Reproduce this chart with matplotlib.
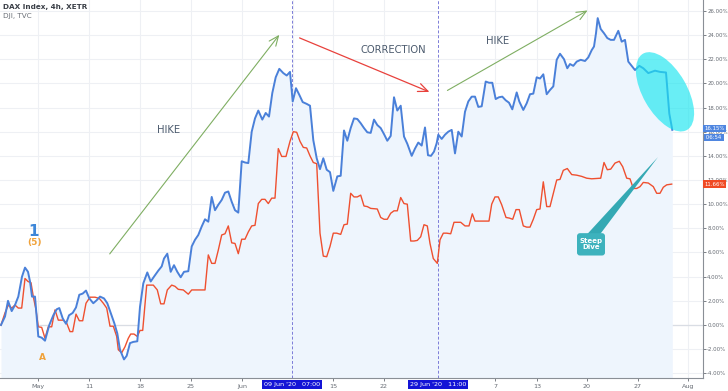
import matplotlib
matplotlib.use("Agg")
import matplotlib.pyplot as plt
import matplotlib.transforms as mtrans
from matplotlib.patches import Ellipse, FancyBboxPatch, Polygon
import numpy as np

# ---------------- data ----------------
# time axis: chart time units (≈0.1 trading session each) from the first bar
dax_t = [1, 5, 8, 11.7, 15, 18.3, 22, 25, 28, 30, 32, 35, 38.3, 41.7, 45, 49.3, 53.3, 56.7, 59.3, 62.7,
         66, 69, 72.7, 76, 79.3, 82.7, 86, 89.3, 93.3, 96.7, 100, 104, 107.3, 110.7, 114.3, 117.3, 120, 124,
         126.7, 130, 133.3, 137.3, 140, 143.3, 147.3, 150.7, 154, 158.3, 161.7, 164, 167.3, 170.7, 174,
         177.3, 180.7, 184, 188.3, 191.7, 195, 198.3, 201.7, 205, 208.3, 211.7, 215, 218.3, 221.7, 225,
         228.3, 231.7, 235, 238.3, 241.7, 245, 248.3, 251.7, 255, 258.3, 262.3, 265.7, 269, 272.3, 275.7,
         279.3, 283.3, 286.7, 290, 292.7, 296, 299.3, 302.7, 306.7, 310, 313.3, 316.7, 320, 323.3, 326.7,
         330, 333.3, 337.3, 340.7, 344, 347.3, 350.7, 354, 357.3, 360.7, 364, 367.3, 370.7, 374, 377.3,
         380.7, 384, 387.3, 390.7, 394, 397.3, 400.7, 404, 407.3, 411.7, 415, 418.3, 421.7, 425, 428, 431,
         434, 436.7, 438.3, 441.7, 445, 448.3, 451.7, 455, 458.3, 461.7, 465, 468.3, 471.7, 475, 478.3,
         481.7, 485.7, 489, 492.3, 495.7, 499, 502.3, 505.7, 509, 512.3, 516.7, 519.3, 523.3, 526.7, 530,
         533.3, 536.7, 540, 543.3, 546.7, 550, 553.3, 556.7, 560, 564, 567.3, 570, 573.3, 576.7, 580.7,
         585, 588.3, 591.7, 594, 596, 597.7, 600.7, 604, 607.3, 610.7, 614, 618.3, 621.7, 625, 628.3,
         631.7, 635, 639.3, 643.3, 648.3, 651.7, 655, 660, 666, 669.3, 672.3]
dax_pct = [0.0, 0.7, 2.0, 1.15, 1.65, 2.35, 4.0, 4.75, 4.4, 3.6, 2.35, 2.35, -0.95, -1.05, -1.3, 0.0, 0.8,
           1.3, 1.4, 0.55, 0.1, 0.8, 1.0, 1.45, 2.5, 2.6, 2.85, 2.2, 1.8, 2.05, 2.35, 2.2, 1.8, 1.0, 0.15,
           -0.7, -2.05, -2.85, -2.55, -1.5, -1.4, -1.35, 1.5, 3.45, 4.35, 3.6, 4.0, 4.5, 4.85, 5.5, 5.9,
           4.4, 4.95, 4.4, 3.95, 4.4, 4.45, 6.5, 7.05, 7.45, 8.15, 8.75, 8.55, 10.6, 9.5, 9.95, 10.35,
           10.95, 11.05, 10.2, 9.5, 9.3, 13.55, 13.45, 13.4, 16.0, 17.1, 17.75, 17.0, 17.55, 17.25, 19.2,
           20.5, 21.2, 20.85, 20.65, 20.95, 18.5, 19.6, 19.05, 18.45, 18.3, 18.15, 15.3, 13.8, 12.9, 13.8,
           12.85, 12.65, 11.1, 12.3, 12.35, 16.1, 15.25, 16.3, 17.1, 17.05, 16.7, 16.3, 15.95, 15.9, 17.0,
           16.55, 16.3, 15.8, 15.25, 15.65, 18.85, 17.75, 18.15, 15.6, 15.0, 14.0, 14.6, 15.1, 14.85,
           16.35, 14.05, 14.0, 14.35, 15.05, 15.75, 15.4, 15.75, 16.0, 16.15, 14.2, 16.0, 15.6, 17.65,
           18.5, 18.9, 18.9, 18.05, 18.1, 20.15, 20.05, 20.05, 18.7, 18.85, 18.9, 18.6, 18.4, 17.85, 19.25,
           18.5, 17.8, 18.35, 19.1, 19.15, 20.5, 20.4, 20.75, 19.1, 19.45, 19.75, 21.95, 22.45, 22.0,
           21.25, 21.6, 21.45, 21.8, 21.95, 21.85, 22.15, 22.75, 23.05, 24.15, 25.4, 24.5, 24.15, 23.75,
           23.6, 23.6, 24.35, 23.45, 23.6, 21.8, 21.45, 21.1, 21.45, 21.25, 20.85, 20.95, 21.05, 20.95,
           20.9, 17.5, 16.15]

dji_t = [1, 5, 8.3, 11.7, 15, 18.3, 21.7, 25, 28, 31, 33.3, 36, 38.3, 41.7, 45, 48.3, 51.7, 55, 58.3,
         63.3, 66.7, 70, 72.7, 76, 79.3, 82.7, 86, 90, 95, 99.3, 103.3, 106.7, 110, 113.3, 116.7, 118.3,
         121.7, 125, 128.3, 130.7, 134, 137.3, 140, 142.7, 146.7, 153.3, 157.3, 160.7, 164, 167.3, 171.7,
         175, 178.3, 183.3, 188.3, 191.7, 205, 208.3, 211.7, 215, 218.3, 221.7, 225, 228.3, 231.7, 235,
         238.3, 241.7, 245, 248.3, 251.7, 255, 258.3, 261.7, 265, 268.3, 271.7, 275, 278.3, 281.7, 286,
         290, 293.3, 296.7, 300, 303.3, 306.7, 310, 313.3, 316.7, 320, 323.3, 326.7, 330, 333.3, 336.7,
         340.7, 344, 347.3, 350.7, 354, 357.3, 360.7, 364, 367.3, 370.7, 377.3, 380.7, 384, 387.3, 390.7,
         394, 397.3, 400.7, 404, 407.3, 410.7, 414, 417.3, 420.7, 424, 427.3, 430, 433.3, 437.3, 440,
         443.3, 446.7, 450.7, 454, 460.7, 465, 469, 472.3, 475, 489, 491.7, 495, 498.3, 501.7, 506, 509.3,
         512.7, 516, 519.3, 523.3, 526.7, 530, 533.3, 536.7, 540, 543.3, 546.7, 550, 553.3, 556.7, 560,
         563.3, 567.3, 571.7, 576.7, 581.7, 586.7, 591.7, 600.7, 604, 607.3, 610.7, 615, 619.3, 622.7,
         626.7, 630, 633.3, 636.7, 640, 643.3, 648.3, 653.3, 656.7, 660, 663.3, 666.7, 671.7]
dji_pct = [0.0, 1.0, 1.65, 1.4, 1.65, 1.4, 1.4, 3.85, 3.6, 3.5, 2.35, 1.25, -0.15, -0.2, -1.1, -0.15,
           -0.15, 1.25, 0.4, 0.4, 0.15, -0.55, -0.55, 0.9, 0.35, 0.35, 1.8, 2.3, 2.3, 2.2, 1.8, 1.4, -0.1,
           -0.1, -0.95, -2.05, -2.3, -1.8, -1.1, -0.75, -0.75, -0.95, -0.45, -0.45, 3.3, 3.3, 2.9, 1.75,
           1.75, 2.9, 3.3, 3.2, 2.95, 2.9, 2.55, 2.9, 2.9, 5.8, 5.1, 5.1, 6.2, 7.45, 7.55, 8.2, 6.8, 6.75,
           5.9, 7.1, 7.1, 7.7, 8.2, 8.25, 10.05, 10.4, 10.4, 10.05, 10.5, 10.5, 14.6, 13.95, 13.95, 15.2,
           16.0, 15.95, 15.2, 14.7, 14.65, 14.0, 13.45, 13.35, 7.6, 5.7, 5.65, 6.5, 7.6, 7.6, 7.5, 8.3,
           8.35, 10.9, 10.6, 10.6, 10.75, 9.85, 9.8, 9.65, 9.6, 8.9, 8.75, 8.75, 9.25, 9.45, 9.45, 10.55,
           10.05, 10.0, 6.95, 6.95, 7.0, 7.3, 8.3, 8.2, 6.75, 5.5, 5.1, 7.05, 7.6, 7.6, 7.55, 8.5, 8.5,
           8.2, 8.2, 9.2, 8.6, 8.6, 10.0, 10.6, 10.6, 9.95, 8.9, 8.85, 8.75, 9.55, 9.55, 8.2, 8.1, 8.1,
           8.75, 9.55, 9.6, 11.85, 9.8, 9.8, 10.9, 12.0, 12.05, 12.8, 12.95, 12.45, 12.4, 12.3, 12.15,
           12.1, 12.15, 13.45, 12.85, 12.9, 13.4, 13.55, 13.1, 12.15, 12.1, 11.3, 11.3, 11.45, 11.8, 11.75,
           11.45, 10.9, 10.9, 11.4, 11.6, 11.66]

x_tick_pos = [38, 89, 140, 191, 242, 333, 384, 495, 537, 587, 638, 688]
x_tick_labels = ["May", "11", "18", "25", "Jun", "15", "22", "7", "13", "20", "27", "Aug"]
y_ticks = list(range(-4, 27, 2))
marker_times = [292, 438]
marker_labels = ["09 Jun '20   07:00", "29 Jun '20   11:00"]
dax_last, dji_last = 16.15, 11.66

# ---------------- figure ----------------
BLUE = "#4a80d9"
RED = "#ef5030"
fig = plt.figure(figsize=(7.28, 3.91), dpi=100)
ax = fig.add_axes([0.0, 0.0332, 703 / 728, 1 - 0.0332])
xmin, xmax = 0, 703
ymin, ymax = -4.39, 26.9
ax.set_xlim(xmin, xmax)
ax.set_ylim(ymin, ymax)

for y in y_ticks:
    ax.axhline(y, color="#eef0f4", lw=0.8, zorder=0)
for x in x_tick_pos + [293]:
    ax.axvline(x, color="#eef0f4", lw=0.8, zorder=0)
ax.axhline(0, color="#d9dde4", lw=0.9, zorder=0.5)

ax.fill_between(dax_t, dax_pct, ymin, color="#eef5fd", zorder=1, lw=0)
ax.plot(dji_t, dji_pct, color=RED, lw=1.0, zorder=3)
ax.plot(dax_t, dax_pct, color=BLUE, lw=1.4, zorder=4)

# vertical markers
for xm in marker_times:
    ax.axvline(xm, color="#7c7cd8", lw=0.7, ls=(0, (3, 2)), zorder=2)
bt = mtrans.blended_transform_factory(ax.transData, ax.transAxes)
for xm, lab in zip(marker_times, marker_labels):
    ax.text(xm, -0.017, lab, transform=bt, ha="center", va="center", fontsize=4.6,
            color="white", bbox=dict(boxstyle="square,pad=0.35", fc="#1414d6", ec="none"),
            zorder=10, clip_on=False)

# axes styling
ax.yaxis.tick_right()
ax.set_yticks(y_ticks)
ax.set_yticklabels([f"{v:.2f}%" for v in y_ticks])
ax.set_xticks(x_tick_pos)
ax.set_xticklabels(x_tick_labels)
ax.tick_params(axis="y", labelsize=3.9, colors="#666b73", length=2.2, width=0.6, pad=0.8)
ax.tick_params(axis="x", labelsize=4.6, colors="#666b73", length=2.5, width=0.6, pad=2)
for s in ["top", "left"]:
    ax.spines[s].set_visible(False)
ax.spines["right"].set_color("#8a8f96")
ax.spines["bottom"].set_color("#8a8f96")
ax.spines["right"].set_linewidth(0.8)
ax.spines["bottom"].set_linewidth(0.8)

# last-price labels
rt = mtrans.blended_transform_factory(ax.transAxes, ax.transData)
lab_kw = dict(transform=rt, ha="left", va="center", fontsize=3.9, color="white", clip_on=False)
ax.text(1.002, dax_last + 0.1, f"{dax_last:.2f}%",
        bbox=dict(boxstyle="square,pad=0.22", fc="#4f86e0", ec="none"), **lab_kw)
ax.text(1.002, dax_last - 0.62, " 06:54 ",
        bbox=dict(boxstyle="square,pad=0.15", fc="#4f86e0", ec="none"), **lab_kw)
ax.text(1.002, dji_last, f"{dji_last:.2f}%",
        bbox=dict(boxstyle="square,pad=0.22", fc="#f04a24", ec="none"), **lab_kw)

# titles
fig.text(0.004, 0.982, "DAX Index, 4h, XETR", fontsize=5.2, fontweight="bold", color="#3a3f47",
         ha="left", va="center")
fig.text(0.004, 0.958, "DJI, TVC", fontsize=5.2, color="#6b7078", ha="left", va="center")

# wave labels
ax.text(34, 7.7, "1", fontsize=11, fontweight="bold", color="#3d86d8", ha="center", va="center")
ax.text(34, 6.8, "(5)", fontsize=6.5, fontweight="bold", color="#f0a23a", ha="center", va="center")
ax.text(42, -2.7, "A", fontsize=6.5, fontweight="bold", color="#f0a23a", ha="center", va="center")

# trend arrows
ap_g = dict(arrowstyle="->,head_length=0.7,head_width=0.3", color="#7fae62", lw=0.8)
ap_r = dict(arrowstyle="->,head_length=0.7,head_width=0.3", color="#e8413c", lw=0.9)
ax.annotate("", xy=(281, 24.2), xytext=(108, 5.7), arrowprops=ap_g)
ax.annotate("", xy=(432, 19.2), xytext=(297, 23.85), arrowprops=ap_r)
ax.annotate("", xy=(590, 26.15), xytext=(445, 19.3), arrowprops=ap_g)
txt_kw = dict(fontsize=7.2, color="#4b5a6d", ha="center", va="center")
ax.text(169, 16.1, "HIKE", **txt_kw)
ax.text(393, 22.8, "CORRECTION", **txt_kw)
ax.text(498, 23.5, "HIKE", **txt_kw)

# highlight ellipse (sized in inches)
ell_tr = fig.dpi_scale_trans + mtrans.ScaledTranslation(665, 19.3, ax.transData)
ax.add_patch(Ellipse((0, 0), 0.88, 0.44, angle=-60, transform=ell_tr,
                     fc="#19e6f0", ec="none", alpha=0.65, zorder=6))

# Steep Dive callout
ax.add_patch(Polygon([(587, 7.5), (600, 7.5), (658, 13.9)], closed=True, fc="#34a9b4", ec="none",
                     zorder=7))
ax.add_patch(FancyBboxPatch((577, 5.75), 28, 1.85, boxstyle="round,pad=0,rounding_size=3",
                            mutation_aspect=0.08, fc="#3db2bd", ec="none", zorder=8))
ax.text(591, 6.67, "Steep\nDive", fontsize=5.0, color="white", ha="center", va="center",
        fontweight="bold", linespacing=1.0, zorder=9)

fig.savefig("out.png", dpi=100)
